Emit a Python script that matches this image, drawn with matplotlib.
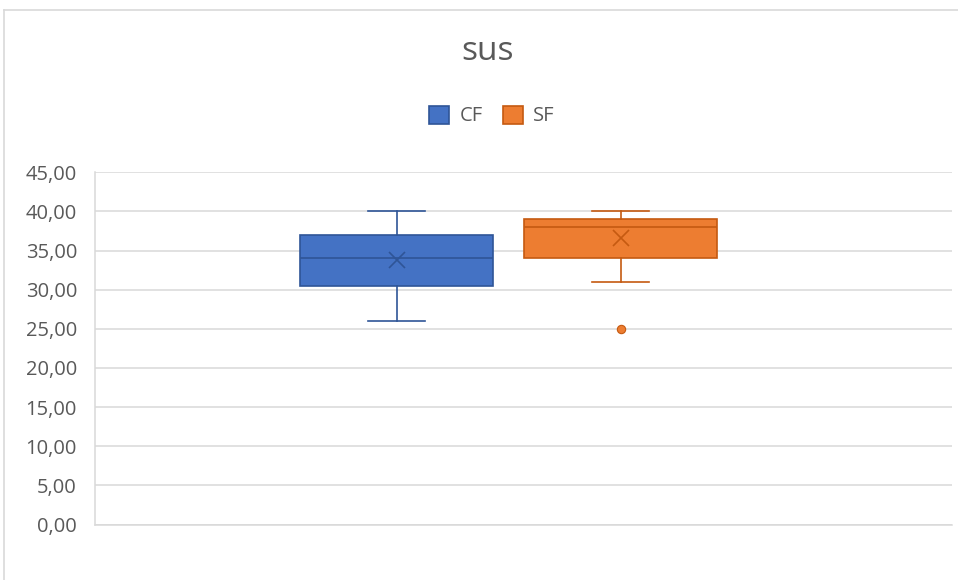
import matplotlib
matplotlib.use("Agg")
import matplotlib.pyplot as plt
from matplotlib.patches import Patch
from matplotlib.lines import Line2D

plt.rcParams['font.family'] = ['Open Sans', 'DejaVu Sans']

# Box-plot summary statistics for each group
series = ["CF", "SF"]
whisker_low = [26.0, 31.0]
q1 = [30.5, 34.0]
median = [34.0, 38.0]
q3 = [37.0, 39.0]
whisker_high = [40.0, 40.0]
mean = [33.8, 36.6]
outliers = [[], [25.0]]

y_ticks = [0, 5, 10, 15, 20, 25, 30, 35, 40, 45]
title = "sus"

fills = ["#4472C4", "#ED7D31"]
edges = ["#2F5597", "#C55A11"]
text_color = "#595959"
grid_color = "#D9D9D9"

fig = plt.figure(figsize=(9.58, 5.8), dpi=100)
ax = fig.add_axes([95 / 958, 1 - 524.5 / 580, 857 / 958, (524.5 - 172.3) / 580])

# Excel-style layout: two boxes side by side inside a single category
centers = [0.352, 0.6135]
box_w = 0.2252
cap_w = 0.0667

for i, name in enumerate(series):
    stats = [dict(label=name, whislo=whisker_low[i], q1=q1[i], med=median[i],
                  q3=q3[i], whishi=whisker_high[i], mean=mean[i],
                  fliers=outliers[i])]
    ax.bxp(stats, positions=[centers[i]], widths=box_w, capwidths=cap_w,
           patch_artist=True, showmeans=True, showfliers=True,
           boxprops=dict(facecolor=fills[i], edgecolor=edges[i], linewidth=1.2),
           medianprops=dict(color=edges[i], linewidth=1.2),
           whiskerprops=dict(color=edges[i], linewidth=1.2),
           capprops=dict(color=edges[i], linewidth=1.2),
           meanprops=dict(marker='x', markersize=11, markeredgecolor=edges[i],
                          markeredgewidth=1.2),
           flierprops=dict(marker='o', markersize=6, markerfacecolor=fills[i],
                           markeredgecolor=edges[i], markeredgewidth=0.8),
           manage_ticks=False)

ax.set_xlim(0, 1)
ax.set_ylim(0, 45)
ax.set_yticks(y_ticks)
ax.set_yticklabels([f"{v:.2f}".replace(".", ",") for v in y_ticks])
ax.set_xticks([])
ax.tick_params(axis='y', length=0, pad=13, labelsize=14.5, labelcolor=text_color)
for lbl in ax.get_yticklabels():
    lbl.set_verticalalignment('center_baseline')
ax.grid(axis='y', color=grid_color, linewidth=1.1)
ax.set_axisbelow(True)
for side in ['top', 'right']:
    ax.spines[side].set_visible(False)
for side in ['left', 'bottom']:
    ax.spines[side].set_color(grid_color)
    ax.spines[side].set_linewidth(1.1)

# Title and legend
fig.text(488 / 958, 1 - 52 / 580, title, ha='center', va='center',
         fontsize=24, color=text_color)
handles = [Patch(facecolor=fills[i], edgecolor=edges[i], linewidth=1.2, label=s)
           for i, s in enumerate(series)]
fig.legend(handles=handles, loc='center', bbox_to_anchor=(492 / 958, 1 - 116 / 580),
           ncol=2, frameon=False, fontsize=14.5, labelcolor=text_color,
           handlelength=1.0, handleheight=1.0, handletextpad=0.5, columnspacing=1.0,
           borderpad=0.0)

# Chart-area border
fig.add_artist(Line2D([4 / 958, 1], [1 - 10 / 580, 1 - 10 / 580],
                      color=grid_color, linewidth=1.2))
fig.add_artist(Line2D([4 / 958, 4 / 958], [0, 1 - 10 / 580],
                      color=grid_color, linewidth=1.2))

fig.savefig("out.png", dpi=100, facecolor="white")
